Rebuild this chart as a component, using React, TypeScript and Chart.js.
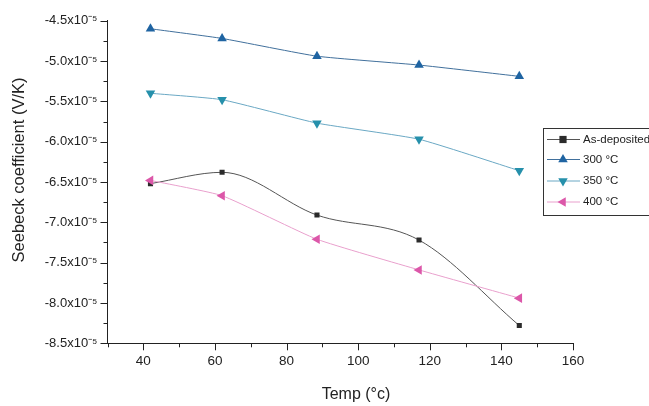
import React, { useEffect, useRef } from "react";
import { Chart, registerables } from "chart.js";

Chart.register(...registerables);

const temps = [42, 62, 88.5, 117, 145];
const asDeposited = [-6.52e-5, -6.38e-5, -6.91e-5, -7.22e-5, -8.28e-5];
const t300 = [-4.60e-5, -4.72e-5, -4.94e-5, -5.05e-5, -5.19e-5];
const t350 = [-5.40e-5, -5.48e-5, -5.77e-5, -5.97e-5, -6.36e-5];
const t400 = [-6.48e-5, -6.67e-5, -7.21e-5, -7.59e-5, -7.94e-5];

const seriesNames = ["As-deposited", "300 \u00B0C", "350 \u00B0C", "400 \u00B0C"];
const xTitle = "Temp (\u00B0c)";
const yTitle = "Seebeck coefficient (V/K)";

const FONT = "'Liberation Sans', Arial, sans-serif";

const styles = [
  { line: "#555555", marker: "#2b2b2b", shape: "rect", rot: 0, r: 3.6, tension: 0.4, mono: true },
  { line: "#41709c", marker: "#1f64a2", shape: "triangle", rot: 0, r: 5.5, tension: 0.15, mono: false },
  { line: "#6aa8c4", marker: "#2690ab", shape: "triangle", rot: 180, r: 5.5, tension: 0.15, mono: false },
  { line: "#e9a0cd", marker: "#dc57a9", shape: "triangle", rot: 270, r: 5.5, tension: 0.15, mono: false },
];

function drawMarker(ctx: CanvasRenderingContext2D, shape: string, r: number, rot: number, x: number, y: number, color: string) {
  ctx.save();
  ctx.fillStyle = color;
  ctx.translate(x, y);
  ctx.rotate((rot * Math.PI) / 180);
  ctx.beginPath();
  if (shape === "rect") {
    ctx.rect(-r, -r, 2 * r, 2 * r);
  } else {
    for (let k = 0; k < 3; k++) {
      const a = (k * 2 * Math.PI) / 3;
      const px = Math.sin(a) * r;
      const py = -Math.cos(a) * r;
      if (k === 0) ctx.moveTo(px, py);
      else ctx.lineTo(px, py);
    }
    ctx.closePath();
  }
  ctx.fill();
  ctx.restore();
}

const decorPlugin = {
  id: "decor",
  afterDraw(chart: any) {
    const ctx: CanvasRenderingContext2D = chart.ctx;
    const xs = chart.scales.x;
    const ys = chart.scales.y;
    const area = chart.chartArea;
    ctx.save();
    // tick marks
    ctx.strokeStyle = "#222";
    ctx.lineWidth = 1;
    ctx.beginPath();
    for (let v = 30; v <= 160; v += 10) {
      const px = Math.round(xs.getPixelForValue(v)) + 0.5;
      const len = v % 20 === 0 ? 7 : 4;
      ctx.moveTo(px, area.bottom);
      ctx.lineTo(px, area.bottom + len);
    }
    for (let k = 0; k <= 16; k++) {
      const v = (-8.5 + k * 0.25) * 1e-5;
      const py = Math.round(ys.getPixelForValue(v)) + 0.5;
      const len = k % 2 === 0 ? 7 : 4;
      ctx.moveTo(area.left, py);
      ctx.lineTo(area.left - len, py);
    }
    ctx.stroke();

    // axis titles
    ctx.fillStyle = "#222";
    ctx.textAlign = "center";
    ctx.textBaseline = "middle";
    ctx.font = `16px ${FONT}`;
    ctx.fillText(xTitle, 356, 395);
    ctx.save();
    ctx.translate(19, 170);
    ctx.rotate(-Math.PI / 2);
    ctx.font = `16.5px ${FONT}`;
    ctx.fillText(yTitle, 0, 0);
    ctx.restore();

    // legend
    const bx = 543, by = 128, bw = 120, bh = 87;
    ctx.strokeStyle = "#333";
    ctx.lineWidth = 1;
    ctx.strokeRect(bx + 0.5, by + 0.5, bw, bh);
    ctx.font = `11.5px ${FONT}`;
    ctx.textBaseline = "middle";
    ctx.textAlign = "left";
    const rows = [139.5, 159.5, 181, 202];
    seriesNames.forEach((name, i) => {
      const st = styles[i];
      const y = rows[i];
      ctx.strokeStyle = st.line;
      ctx.lineWidth = 1;
      ctx.beginPath();
      ctx.moveTo(547, y);
      ctx.lineTo(580, y);
      ctx.stroke();
      drawMarker(ctx, st.shape, st.r, st.rot, 563, y, st.marker);
      ctx.fillStyle = "#222";
      ctx.fillText(name, 583, y);
    });
    ctx.restore();
  },
};

export default function App() {
  const ref = useRef<HTMLCanvasElement | null>(null);
  useEffect(() => {
    if (!ref.current) return;
    const all = [asDeposited, t300, t350, t400];
    const datasets = all.map((vals, i) => ({
      label: seriesNames[i],
      data: vals.map((v, j) => ({ x: temps[j], y: v })),
      borderColor: styles[i].line,
      backgroundColor: styles[i].marker,
      pointBackgroundColor: styles[i].marker,
      pointBorderColor: styles[i].marker,
      pointBorderWidth: 0,
      pointStyle: styles[i].shape as any,
      pointRotation: styles[i].rot,
      pointRadius: styles[i].r,
      borderWidth: 1,
      tension: styles[i].tension,
      cubicInterpolationMode: styles[i].mono ? ("monotone" as const) : ("default" as const),
      order: i === 3 ? 0 : 1,
    }));
    const chart = new Chart(ref.current, {
      type: "line",
      data: { datasets },
      plugins: [decorPlugin],
      options: {
        animation: false,
        responsive: false,
        layout: { padding: { left: 0, top: 20.7, right: 76, bottom: 0 } },
        plugins: { legend: { display: false }, tooltip: { enabled: false } },
        scales: {
          x: {
            type: "linear",
            min: 30,
            max: 160,
            afterBuildTicks: (s: any) => {
              const t = [];
              for (let v = 30; v <= 160; v += 10) t.push({ value: v });
              s.ticks = t;
            },
            afterFit: (s: any) => {
              s.height = 62.7;
            },
            grid: { display: true, drawOnChartArea: false, drawTicks: false },
            border: { display: true, color: "#222", width: 1 },
            ticks: {
              autoSkip: false,
              maxRotation: 0,
              padding: 10,
              color: "#222",
              font: { family: FONT, size: 13.5 },
              callback: (v: any) => (v % 20 === 0 && v !== 30 ? String(v) : ""),
            },
          },
          y: {
            type: "linear",
            min: -8.5e-5,
            max: -4.5e-5,
            afterBuildTicks: (s: any) => {
              const t = [];
              for (let k = 0; k <= 16; k++) t.push({ value: (-8.5 + k * 0.25) * 1e-5 });
              s.ticks = t;
            },
            afterFit: (s: any) => {
              s.width = 107.5;
            },
            grid: { display: true, drawOnChartArea: false, drawTicks: false },
            border: { display: true, color: "#222", width: 1 },
            ticks: {
              autoSkip: false,
              padding: 10,
              color: "#222",
              font: { family: FONT, size: 13 },
              callback: (v: any, idx: number) => {
                if (idx % 2 !== 0) return "";
                const n = v * 1e5;
                return `${n.toFixed(1)}x10\u207B\u2075`;
              },
            },
          },
        },
      },
    });
    return () => chart.destroy();
  }, []);
  return (
    <div style={{ position: "absolute", left: 0, top: 0, width: 649, height: 406, background: "#fff" }}>
      <canvas ref={ref} width={649} height={406} style={{ display: "block" }} />
    </div>
  );
}
